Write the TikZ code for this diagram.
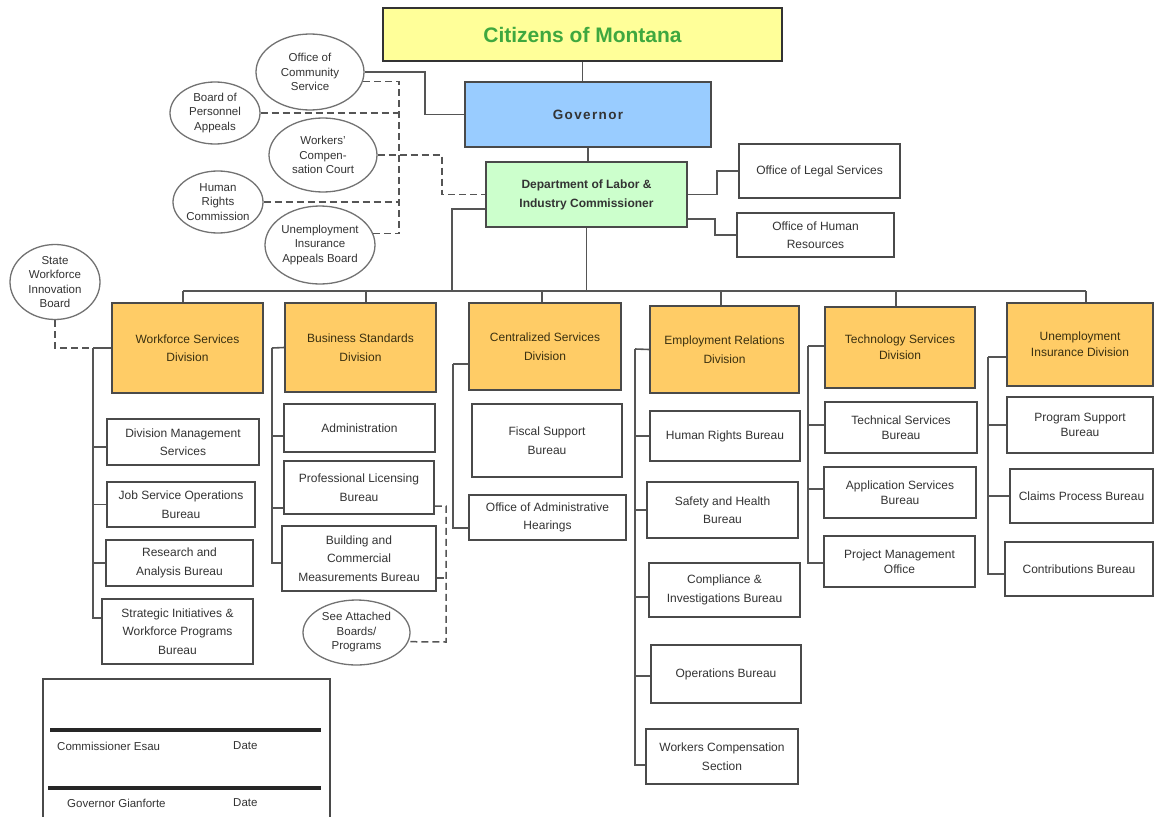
\documentclass[tikz,border=0pt]{standalone}
\usepackage{fontspec}
\setmainfont{Liberation Sans}
\usetikzlibrary{shapes.geometric,calc}
\definecolor{cityellow}{HTML}{FFFF99}
\definecolor{citgreen}{HTML}{3FA83F}
\definecolor{govblue}{HTML}{99CCFF}
\definecolor{commgreen}{HTML}{CCFFCC}
\definecolor{divorange}{HTML}{FFCC66}
\definecolor{bordergray}{HTML}{4A4A4A}
\definecolor{linegray}{HTML}{555555}
\definecolor{ovalgray}{HTML}{727272}
\definecolor{textgray}{HTML}{333333}
\definecolor{divtext}{HTML}{3A3010}
\begin{document}
\begin{tikzpicture}[x=1pt,y=-1pt,
  box/.style={draw=bordergray, line width=1.5pt, fill=white, align=center,
    font=\fontsize{12}{18.5}\selectfont, text=textgray, inner sep=2pt},
  divbox/.style={box, fill=divorange, text=divtext},
  oval/.style={ellipse, draw=ovalgray, line width=1.3pt, fill=white, align=center,
    font=\fontsize{11.5}{14.5}\selectfont, text=textgray, inner sep=-3pt},
  conn/.style={draw=linegray, line width=1.6pt},
  dconn/.style={draw=linegray, line width=1.5pt, dash pattern=on 7pt off 4pt},
  sigtext/.style={anchor=west, font=\fontsize{11.5}{14}\selectfont, text=textgray, inner sep=0pt}]
\useasboundingbox (0,0) rectangle (1155,816);

% top
\node[draw=black!80, line width=2.4pt, fill=cityellow, minimum width=399pt, minimum height=53pt,
  font=\fontsize{21}{24}\selectfont\bfseries, text=citgreen] (cit) at (582.5,34.5) {Citizens of Montana};
\node[draw=bordergray, line width=1.5pt, fill=govblue, minimum width=246pt, minimum height=65pt,
  font=\fontsize{13.5}{16}\selectfont\bfseries\addfontfeatures{LetterSpace=10}, text=textgray] (gov) at (588,114.5) {Governor};
\node[draw=bordergray, line width=1.5pt, fill=commgreen, minimum width=201pt, minimum height=65pt,
  align=center, font=\fontsize{12}{19}\selectfont\bfseries, text=textgray] (comm) at (586.5,194.5) {Department of Labor \&\\Industry Commissioner};
\node[box, minimum width=161pt, minimum height=54pt] (ols) at (819.5,171) {Office of Legal Services};
\node[box, minimum width=157pt, minimum height=44pt] (ohr) at (815.5,235) {Office of Human\\Resources};

% ovals
\node[oval, minimum width=108pt, minimum height=76pt] (ocs) at (310,72) {Office of\\Community\\Service};
\node[oval, minimum width=90pt, minimum height=62pt] (bpa) at (215,113) {Board of\\Personnel\\Appeals};
\node[oval, minimum width=108pt, minimum height=74pt] (wcc) at (323,155) {Workers'\\Compen-\\sation Court};
\node[oval, minimum width=90pt, minimum height=62pt] (hrc) at (218,202) {Human\\Rights\\Commission};
\node[oval, minimum width=110pt, minimum height=78pt] (uiab) at (320,245) {Unemployment\\Insurance\\Appeals Board};
\node[oval, minimum width=90pt, minimum height=75pt] (swib) at (55,282) {State\\Workforce\\Innovation\\Board};
\node[oval, minimum width=107pt, minimum height=65pt] (sabp) at (356.5,632.5) {See Attached\\Boards/\\Programs};

% divisions
\node[divbox, minimum width=151pt, minimum height=90pt] (wsd) at (187.5,348) {Workforce Services\\Division};
\node[divbox, minimum width=151pt, minimum height=89pt] (bsd) at (360.5,347.5) {Business Standards\\Division};
\node[divbox, minimum width=152pt, minimum height=87pt] (csd) at (545,346.5) {Centralized Services\\Division};
\node[divbox, minimum width=149pt, minimum height=87pt] (erd) at (724.5,349.5) {Employment Relations\\Division};
\node[divbox, minimum width=150pt, minimum height=81pt, font=\fontsize{12}{16}\selectfont] (tsd) at (900,347.5) {Technology Services\\Division};
\node[divbox, minimum width=146pt, minimum height=83pt, font=\fontsize{12}{16}\selectfont] (uid) at (1080,344.5) {Unemployment\\Insurance Division};

% workforce units
\node[box, minimum width=152pt, minimum height=46pt] (dms) at (183,442) {Division Management\\Services};
\node[box, minimum width=148pt, minimum height=45pt] (jsob) at (181,504.5) {Job Service Operations\\Bureau};
\node[box, minimum width=147pt, minimum height=46pt] (rab) at (179.5,563) {Research and\\Analysis Bureau};
\node[box, minimum width=151pt, minimum height=65pt] (siwpb) at (177.5,631.5) {Strategic Initiatives \&\\Workforce Programs\\Bureau};

% business standards units
\node[box, minimum width=151pt, minimum height=48pt] (adm) at (359.5,428) {Administration};
\node[box, minimum width=150pt, minimum height=53pt] (plb) at (359,487.5) {Professional Licensing\\Bureau};
\node[box, minimum width=154pt, minimum height=65pt] (bcmb) at (359,558.5) {Building and\\Commercial\\Measurements Bureau};

% centralized units
\node[box, minimum width=150pt, minimum height=73pt] (fsb) at (547,440.5) {Fiscal Support\\Bureau};
\node[box, minimum width=157pt, minimum height=45pt] (oah) at (547.5,517.5) {Office of Administrative\\Hearings};

% employment relations units
\node[box, minimum width=150pt, minimum height=50pt] (hrb) at (725,436) {Human Rights Bureau};
\node[box, minimum width=151pt, minimum height=56pt] (shb) at (722.5,510) {Safety and Health\\Bureau};
\node[box, minimum width=151pt, minimum height=54pt] (cib) at (724.5,590) {Compliance \&\\Investigations Bureau};
\node[box, minimum width=150pt, minimum height=58pt] (ob) at (726,674) {Operations Bureau};
\node[box, minimum width=152pt, minimum height=55pt] (wcs) at (722,756.5) {Workers Compensation\\Section};

% technology units
\node[box, minimum width=152pt, minimum height=51pt, font=\fontsize{12}{15.5}\selectfont] (tsb) at (901,427.5) {Technical Services\\Bureau};
\node[box, minimum width=152pt, minimum height=51pt, font=\fontsize{12}{15.5}\selectfont] (asb) at (900,492.5) {Application Services\\Bureau};
\node[box, minimum width=151pt, minimum height=51pt, font=\fontsize{12}{15.5}\selectfont] (pmo) at (899.5,561.5) {Project Management\\Office};

% UI units
\node[box, minimum width=146pt, minimum height=56pt, font=\fontsize{12}{15.5}\selectfont] (psb) at (1080,425) {Program Support\\Bureau};
\node[box, minimum width=143pt, minimum height=54pt] (cpb) at (1081.5,496) {Claims Process Bureau};
\node[box, minimum width=148pt, minimum height=54pt] (cb) at (1079,569) {Contributions Bureau};

% signature block
\node[draw=bordergray, line width=1.5pt, minimum width=287pt, minimum height=160pt, anchor=north west] (sig) at (42,678) {};
\draw[line width=3.2pt, black!85] (50,730) -- (321,730);
\draw[line width=3.2pt, black!85] (48,788) -- (321,788);
\node[sigtext] (sigc) at (57,746) {Commissioner Esau};
\node[sigtext] (sigcd) at (233,746) {Date};
\node[sigtext] (sigg) at (67,803) {Governor Gianforte};
\node[sigtext] (siggd) at (233,803) {Date};

% coordinates
\coordinate (busL) at (183,291);
\coordinate (busR) at (1086,291);
\coordinate (busJ) at (452,291);
\coordinate (dBSD) at (366,291);
\coordinate (dCSD) at (542,291);
\coordinate (dERD) at (721,291);
\coordinate (dTSD) at (896,291);
\coordinate (ogx) at (425,69);
\coordinate (dvx) at (399,234);
\coordinate (wcx) at (442,152);
\coordinate (sadv) at (446,642);
\coordinate (wsdv) at (93,348);
\coordinate (bsdv) at (272,348);
\coordinate (csdv) at (453,364);
\coordinate (erdv) at (635,349);
\coordinate (tsdv) at (808,346);
\coordinate (uidv) at (988,357);

% solid connectors
\draw[conn] (cit.south) -- (cit.south |- gov.north);
\draw[conn] (gov.south) -- (gov.south |- comm.north);
\draw[conn] (ocs.east) -- (ocs.east -| ogx) |- (gov.west);
\draw[conn] (comm.east) -- ++(29,0) |- (ols.west);
\draw[conn] ([yshift=-24.5pt]comm.east) -- ++(27,0) |- (ohr.west);
\draw[conn] ([yshift=-14.5pt]comm.west) -| (busJ);
\draw[conn] (comm.south) -- (comm.south |- busL);
\draw[conn] (busL) -- (busR);
\draw[conn] (busL) -- (busL |- wsd.north);
\draw[conn] (dBSD) -- (dBSD |- bsd.north);
\draw[conn] (dCSD) -- (dCSD |- csd.north);
\draw[conn] (dERD) -- (dERD |- erd.north);
\draw[conn] (dTSD) -- (dTSD |- tsd.north);
\draw[conn] (busR) -- (busR |- uid.north);

% workforce tree
\draw[conn] (wsd.west) -- (wsdv);
\draw[conn] (wsdv) |- ([yshift=-5pt]dms.west);
\draw[conn] (wsdv) |- (jsob.west);
\draw[conn] (wsdv) |- (rab.west);
\draw[conn] (wsdv) |- ([yshift=13.5pt]siwpb.west);
% business standards tree
\draw[conn] (bsd.west) -- (bsdv);
\draw[conn] (bsdv) |- ([yshift=-8pt]adm.west);
\draw[conn] (bsdv) |- ([yshift=-20.5pt]plb.west);
\draw[conn] (bsdv) |- ([yshift=-4.5pt]bcmb.west);
% centralized tree
\draw[conn] ([yshift=-17.5pt]csd.west) -- (csdv);
\draw[conn] (csdv) |- ([yshift=-10.5pt]oah.west);
% employment relations tree
\draw[conn] (erd.west) -- (erdv);
\draw[conn] (erdv) |- (hrb.west);
\draw[conn] (erdv) |- (shb.west);
\draw[conn] (erdv) |- ([yshift=-7pt]cib.west);
\draw[conn] (erdv) |- ([yshift=-2pt]ob.west);
\draw[conn] (erdv) |- ([yshift=-8.5pt]wcs.west);
% technology tree
\draw[conn] ([yshift=1.5pt]tsd.west) -- (tsdv);
\draw[conn] (tsdv) |- ([yshift=2.5pt]tsb.west);
\draw[conn] (tsdv) |- ([yshift=3.5pt]asb.west);
\draw[conn] (tsdv) |- ([yshift=-1.5pt]pmo.west);
% UI tree
\draw[conn] ([yshift=-12.5pt]uid.west) -- (uidv);
\draw[conn] (uidv) |- (psb.west);
\draw[conn] (uidv) |- (cpb.west);
\draw[conn] (uidv) |- ([yshift=-5pt]cb.west);

% dashed connectors
\draw[dconn] (ocs.-10) -| (dvx);
\draw[dconn] (bpa.east) -- (bpa.east -| dvx);
\draw[dconn] (hrc.east) -- (hrc.east -| dvx);
\draw[dconn] (uiab.12) -- (uiab.12 -| dvx);
\draw[dconn] (wcc.east) -- (wcc.east -| wcx) |- (comm.west);
\draw[dconn] (swib.south) |- (wsd.west);
\draw[dconn] ([yshift=-18.5pt]plb.east) -| (sadv) -- (sabp.-10);
\draw[dconn] ([yshift=-19.5pt]bcmb.east) -- ++(10,0);
\end{tikzpicture}
\end{document}
